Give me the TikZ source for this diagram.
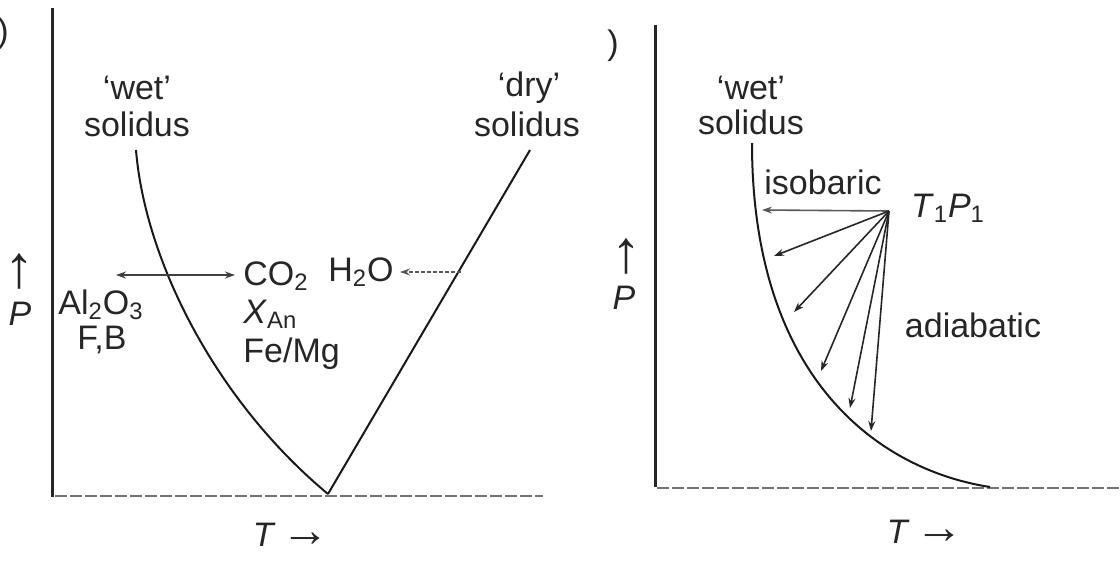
\documentclass[tikz,border=0pt]{standalone}
\usepackage{fontspec}
\setmainfont{Liberation Sans}
\usetikzlibrary{arrows.meta, positioning}
\tikzset{
  axisline/.style={line width=1.5pt, draw=black!85},
  baseline/.style={line width=0.8pt, draw=black!55, dash pattern=on 6pt off 1.5pt},
  solidus/.style={line width=1pt, draw=black!90},
  lbl/.style={font=\fontsize{17}{19}\selectfont, text=black!85, inner sep=0pt},
  arrowlbl/.style={font=\fontsize{30}{32}\selectfont, text=black!85, inner sep=0pt},
  ptarrow/.style={-{Stealth[length=5pt,width=3.5pt]}, line width=0.8pt, draw=black!85},
  dblarrow/.style={{Stealth[length=5pt,width=3.5pt]}-{Stealth[length=5pt,width=3.5pt]}, line width=0.7pt, draw=black!75},
  dotarrow/.style={-{Stealth[length=5pt,width=3.5pt]}, line width=0.7pt, draw=black!65, dash pattern=on 2pt off 1pt},
}
\newcommand{\Tarrow}{\textit{T}\,{\fontsize{24}{26}\selectfont →}}

\begin{document}
\begin{tikzpicture}[x=0.5pt, y=-0.5pt]
  \useasboundingbox (0,0) rectangle (1120,568);
  % left panel
  \draw[axisline] (52,8) -- (52,497);
  \draw[baseline] (55,496) -- (543,496);
  \coordinate (vtip) at (328,494);
  \draw[solidus] (136,150) .. controls (145,260) and (215,400) .. (vtip);
  \draw[solidus] (vtip) -- (530,150);
  \node[lbl] (lpar) at (3,34) {)};
  \node[lbl] (wetA) at (137,88) {`wet'};
  \node[lbl] (solA) at (137,124) {solidus};
  \node[lbl] (dryA) at (529,88) {`dry'};
  \node[lbl] (solB) at (527,124) {solidus};
  \node[arrowlbl] (upA) at (19,272) {↑};
  \node[lbl] (pA) at (20,314) {\textit{P}};
  \node[lbl] (alox) at (101,305) {Al\textsubscript{2}O\textsubscript{3}};
  \node[lbl] (fb) at (102,340) {F,B};
  \node[lbl, anchor=west] (co2) at (243,276) {CO\textsubscript{2}};
  \node[lbl, anchor=west] (xan) at (243,314) {\textit{X}\textsubscript{An}};
  \node[lbl, anchor=west] (femg) at (243,354) {Fe/Mg};
  \node[lbl] (h2o) at (361,272) {H\textsubscript{2}O};
  \node[lbl] (tA) at (291,535) {\Tarrow};
  \coordinate (aleft) at (116,275);
  \coordinate (dryx) at (461,272);
  \draw[dblarrow] (aleft) -- ([xshift=-4pt]co2.west |- aleft);
  \draw[dotarrow] (dryx) -- ([xshift=3pt]h2o.east);
  % right panel
  \draw[axisline] (655,25) -- (655,487);
  \draw[baseline] (657,488) -- (1120,488);
  \draw[solidus] (752,143) .. controls (752,380) and (880,470) .. (990,487);
  \node[lbl] (rpar) at (613,46) {)};
  \node[lbl] (wetB) at (751,88) {`wet'};
  \node[lbl] (solC) at (751,122) {solidus};
  \node[lbl] (isob) at (823,182) {isobaric};
  \node[lbl] (tp) at (948,208) {\textit{T}\textsubscript{1}\textit{P}\textsubscript{1}};
  \node[lbl] (adia) at (973,325) {adiabatic};
  \node[arrowlbl] (upB) at (626,257) {↑};
  \node[lbl] (pB) at (624,298) {\textit{P}};
  \node[lbl] (tB) at (925,532) {\Tarrow};
  \coordinate (start) at (889,211);
  \coordinate (e0) at (762,210);
  \coordinate (e1) at (774,256);
  \coordinate (e2) at (794,312);
  \coordinate (e3) at (821,371);
  \coordinate (e4) at (850,408);
  \coordinate (e5) at (871,431);
  \draw[ptarrow, draw=black!65] (start) -- (e0);
  \foreach \e in {e1,e2,e3,e4,e5}
    \draw[ptarrow] (start) -- (\e);
\end{tikzpicture}
\end{document}
